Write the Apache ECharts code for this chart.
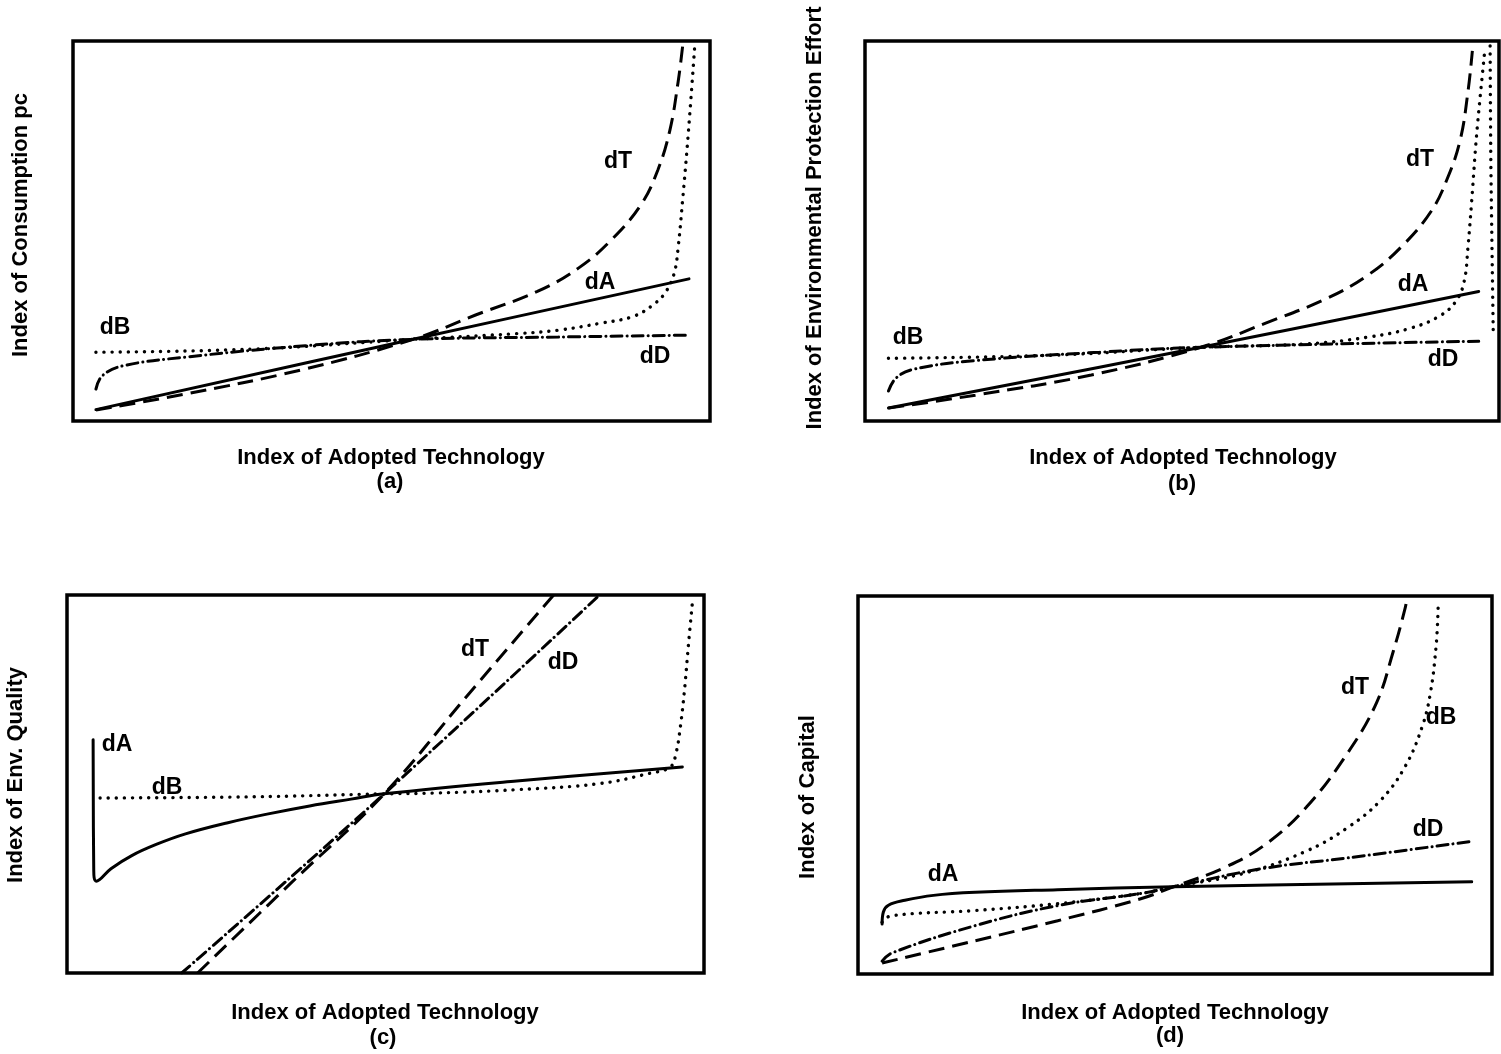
<!DOCTYPE html>
<html>
<head>
<meta charset="utf-8">
<script src="https://cdn.jsdelivr.net/npm/echarts@6/dist/echarts.min.js"></script>
<style>
  html, body { margin: 0; padding: 0; background: #fff; }
  #chart { width: 1501px; height: 1054px; }
</style>
</head>
<body>
<div id="chart"></div>
<script>
// Index values on a 0–100 scale for both axes of every panel: [technology, index]

// (a) Index of Consumption pc
const consA = [[3.6, 3.0], [53.4, 21.5], [96.7, 37.4]];
const consB = [[3.6, 18.1], [27.9, 18.9], [53.4, 21.5], [69.7, 23.0], [76.2, 23.9], [82.7, 25.7], [87.9, 27.5], [91.1, 30.6], [93.1, 34.1], [94.4, 39.0], [95.0, 45.7], [95.7, 58.1], [96.6, 75.9], [97.6, 98.6]];
const consD = [[3.6, 8.4], [4.6, 11.9], [7.8, 14.5], [17.6, 16.8], [37.1, 19.9], [53.4, 21.5], [76.2, 22.1], [96.6, 22.6]];
const consT = [[3.6, 2.9], [17.6, 7.1], [35.7, 13.4], [53.4, 21.5], [63.2, 27.9], [72.9, 34.1], [79.4, 40.3], [84.6, 47.8], [89.2, 57.0], [91.8, 66.0], [93.7, 76.5], [95.0, 89.3], [95.7, 98.6]];

// (b) Index of Environmental Protection Effort
const effA = [[3.7, 3.4], [53.0, 19.4], [96.8, 34.1]];
const effB = [[3.7, 16.5], [29.3, 17.3], [53.0, 19.4], [69.7, 20.3], [79.5, 22.1], [86.0, 24.4], [90.6, 27.6], [93.2, 31.5], [94.5, 36.7], [95.1, 45.7], [95.7, 58.1], [96.5, 75.9], [97.8, 98.2]];
const effB2 = [[98.6, 98.7], [98.7, 71.1], [98.9, 44.9], [99.1, 22.6]];
const effD = [[3.7, 7.9], [4.9, 11.3], [7.6, 13.6], [17.4, 15.9], [37.0, 18.1], [53.0, 19.4], [96.8, 21.0]];
const effT = [[3.7, 3.4], [17.4, 6.8], [35.7, 12.1], [53.0, 19.4], [63.1, 25.7], [72.9, 32.3], [79.5, 38.6], [84.7, 46.0], [89.3, 55.2], [91.9, 64.0], [93.9, 74.1], [95.1, 86.6], [95.8, 97.4]];

// (c) Index of Env. Quality
const qualA = [[4.1, 61.7], [4.2, 27.2], [4.6, 24.3], [6.9, 27.6], [10.1, 31.0], [14.0, 34.0], [18.6, 36.8], [25.1, 39.7], [31.6, 42.1], [38.1, 44.2], [44.6, 46.0], [49.8, 47.4], [70.6, 50.8], [96.6, 54.5]];
const qualB = [[5.2, 46.3], [28.8, 46.6], [49.8, 47.4], [57.6, 47.6], [70.6, 48.5], [83.6, 50.1], [91.4, 52.8], [94.7, 54.5], [95.6, 58.1], [96.3, 65.3], [96.9, 74.2], [97.6, 87.7], [98.2, 98.4]];
const qualD = [[18.0, 0], [49.8, 47.4], [83.6, 100]];
const qualT = [[20.5, 0], [35.1, 23.7], [49.8, 47.4], [62.7, 73.1], [76.4, 100]];

// (d) Index of Capital
const capA = [[3.8, 13.2], [4.0, 16.4], [4.8, 18.2], [7.4, 19.5], [11.9, 20.8], [18.5, 21.6], [31.5, 22.3], [49.8, 23.1], [96.8, 24.4]];
const capB = [[3.8, 13.7], [5.2, 15.4], [18.5, 16.8], [31.5, 18.6], [44.6, 21.3], [49.8, 23.1], [60.8, 26.6], [70.7, 32.5], [77.2, 38.7], [82.4, 45.9], [86.3, 54.9], [89.0, 65.5], [90.3, 74.5], [91.2, 87.1], [91.5, 96.8]];
const capD = [[3.8, 3.4], [5.4, 5.6], [18.5, 12.8], [31.5, 18.1], [44.6, 21.3], [49.8, 23.1], [64.2, 28.0], [77.2, 30.7], [96.8, 35.1]];
const capT = [[3.8, 2.9], [18.5, 8.8], [31.5, 14.1], [44.6, 19.9], [49.8, 23.1], [57.6, 28.0], [64.2, 34.2], [70.7, 44.1], [77.2, 58.4], [81.8, 71.8], [84.4, 85.2], [86.3, 96.8], [86.6, 99.7]];

// Text
const xTitle = 'Index of Adopted Technology';
const panelTags = ['(a)', '(b)', '(c)', '(d)'];
const yTitles = ['Index of Consumption pc', 'Index of Environmental Protection Effort', 'Index of Env. Quality', 'Index of Capital'];

// Panel rectangles (pixels)
const grids = [
  { left: 73, top: 41, width: 637, height: 380 },
  { left: 865, top: 41, width: 634, height: 380 },
  { left: 67, top: 595, width: 637, height: 378 },
  { left: 858, top: 596, width: 634, height: 378 }
];

const FONT = '"Liberation Sans", Arial, sans-serif';

const styles = {
  A: { type: 'solid', width: 3, cap: 'round', join: 'round' },
  B: { type: [0.1, 8], width: 3.4, cap: 'round' },
  D: { type: [11, 5, 0.1, 5], width: 3, cap: 'round' },
  T: { type: [16, 8], width: 3, cap: 'butt' }
};

function curve(idx, data, key) {
  return {
    type: 'line',
    xAxisIndex: idx,
    yAxisIndex: idx,
    data: data,
    showSymbol: false,
    symbol: 'none',
    smooth: 0.4,
    clip: true,
    silent: true,
    lineStyle: Object.assign({ color: '#000' }, styles[key])
  };
}

const series = [
  curve(0, consB, 'B'), curve(0, consD, 'D'), curve(0, consT, 'T'), curve(0, consA, 'A'),
  curve(1, effB, 'B'), curve(1, effB2, 'B'), curve(1, effD, 'D'), curve(1, effT, 'T'), curve(1, effA, 'A'),
  curve(2, qualB, 'B'), curve(2, qualD, 'D'), curve(2, qualT, 'T'), curve(2, qualA, 'A'),
  curve(3, capB, 'B'), curve(3, capD, 'D'), curve(3, capT, 'T'), curve(3, capA, 'A')
];

function axis(i) {
  return {
    gridIndex: i, type: 'value', min: 0, max: 100,
    axisLine: { show: false }, axisTick: { show: false },
    axisLabel: { show: false }, splitLine: { show: false }
  };
}

function txt(x, y, s, size, rot) {
  return {
    type: 'text', x: x, y: y, rotation: rot || 0, silent: true,
    style: {
      text: s, fill: '#000', font: 'bold ' + size + 'px ' + FONT,
      align: 'center', verticalAlign: 'middle'
    }
  };
}

const R = Math.PI / 2;
const T = 22;   // axis title size
const L = 23;   // curve name size
const graphics = [
  // axis titles
  txt(391, 458, xTitle, T), txt(390, 482, panelTags[0], T),
  txt(1183, 458, xTitle, T), txt(1182, 484, panelTags[1], T),
  txt(385, 1013, xTitle, T), txt(383, 1038, panelTags[2], T),
  txt(1175, 1013, xTitle, T), txt(1170, 1036, panelTags[3], T),
  txt(21, 225, yTitles[0], T, R),
  txt(815, 218, yTitles[1], T, R),
  txt(16, 775, yTitles[2], T, R),
  txt(808, 797, yTitles[3], T, R),
  // curve names
  txt(618, 162, 'dT', L), txt(600, 283, 'dA', L), txt(115, 328, 'dB', L), txt(655, 357, 'dD', L),
  txt(1420, 160, 'dT', L), txt(1413, 285, 'dA', L), txt(908, 338, 'dB', L), txt(1443, 360, 'dD', L),
  txt(475, 650, 'dT', L), txt(563, 663, 'dD', L), txt(117, 745, 'dA', L), txt(167, 788, 'dB', L),
  txt(1355, 688, 'dT', L), txt(1441, 718, 'dB', L), txt(1428, 830, 'dD', L), txt(943, 875, 'dA', L)
];

const chart = echarts.init(document.getElementById('chart'), null, { renderer: 'canvas' });
chart.setOption({
  animation: false,
  backgroundColor: '#fff',
  grid: grids.map(g => Object.assign({ show: true, borderColor: '#000', borderWidth: 3.5, backgroundColor: 'transparent', containLabel: false }, g)),
  xAxis: [0, 1, 2, 3].map(axis),
  yAxis: [0, 1, 2, 3].map(axis),
  series: series,
  graphic: graphics
});
</script>
</body>
</html>
